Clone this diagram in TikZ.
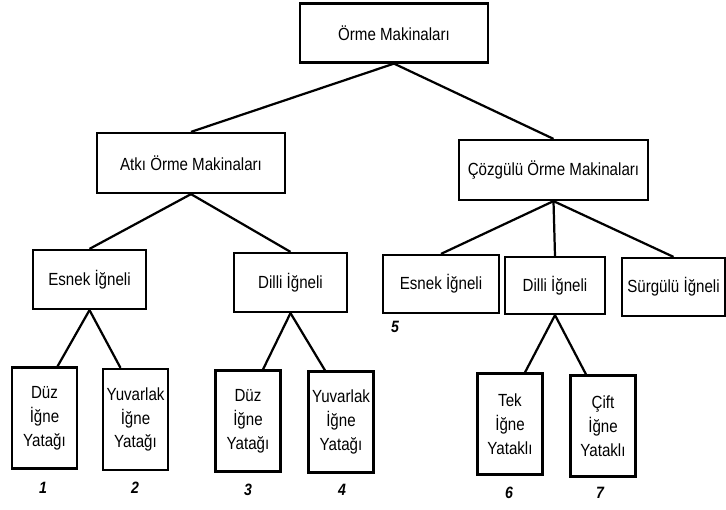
\documentclass[tikz,border=0pt]{standalone}
\usepackage{fontspec}
\setmainfont[FakeStretch=0.86]{Liberation Sans}
\usetikzlibrary{calc}

\tikzset{
    box/.style={draw, line width=1.9pt, inner sep=0pt, align=center,
        font=\fontsize{15}{20.4}\selectfont},
    tallbox/.style={box, minimum width=1.95cm, minimum height=3.03cm},
    num/.style={inner sep=0pt, font=\fontsize{14}{16}\selectfont\bfseries\itshape},
    link/.style={line width=1.9pt},
}

\begin{document}
\begin{tikzpicture}[x=0.03cm, y=-0.03cm]
    \useasboundingbox (0,0) rectangle (726,510);

    % top levels
    \node[box, minimum width=5.64cm, minimum height=1.77cm] (orme) at (394,33) {Örme Makinaları};
    \node[box, minimum width=5.64cm, minimum height=1.8cm] (atki) at (191,163) {Atkı Örme Makinaları};
    \node[box, minimum width=5.67cm, minimum height=1.8cm] (cozgu) at (553.5,170) {Çözgülü Örme Makinaları};

    % needle types
    \node[box, minimum width=3.39cm, minimum height=1.77cm] (esnekA) at (89.5,279.5) {Esnek İğneli};
    \node[box, minimum width=3.39cm, minimum height=1.77cm] (dilliA) at (290.5,282.5) {Dilli İğneli};
    \node[box, minimum width=3.48cm, minimum height=1.74cm] (esnekB) at (441,284) {Esnek İğneli};
    \node[box, minimum width=3.0cm, minimum height=1.71cm] (dilliB) at (555,285.5) {Dilli İğneli};
    \node[box, minimum width=3.09cm, minimum height=1.74cm] (surgu) at (673.5,287) {Sürgülü İğneli};

    % needle beds
    \node[tallbox] (duzA) at (44.5,418) {Düz\\İğne\\Yatağı};
    \node[tallbox] (yuvA) at (135.5,419.5) {Yuvarlak\\İğne\\Yatağı};
    \node[tallbox] (duzB) at (248,421) {Düz\\İğne\\Yatağı};
    \node[tallbox] (yuvB) at (341,422) {Yuvarlak\\İğne\\Yatağı};
    \node[tallbox] (tek) at (510,424) {Tek\\İğne\\Yataklı};
    \node[tallbox] (cift) at (603,426) {Çift\\İğne\\Yataklı};

    \foreach \n/\x/\y in {1/43/488, 2/135/488, 3/248/490, 4/342/490,
                          5/395/327, 6/509/493, 7/600/493} {
        \node[num] (no\n) at (\x,\y) {\n};
    }

    \draw[link] (orme.south) -- (atki.north);
    \draw[link] (orme.south) -- (cozgu.north);
    \draw[link] (atki.south) -- (esnekA.north);
    \draw[link] (atki.south) -- (dilliA.north);
    \draw[link] (cozgu.south) -- (esnekB.north);
    \draw[link] (cozgu.south) -- (dilliB.north);
    \draw[link] (cozgu.south) -- (surgu.north);
    \draw[link] (esnekA.south) -- ($(duzA.north)+(13,0)$);
    \draw[link] (esnekA.south) -- ($(yuvA.north)+(-15,0)$);
    \draw[link] (dilliA.south) -- ($(duzB.north)+(15,0)$);
    \draw[link] (dilliA.south) -- ($(yuvB.north)+(-16,0)$);
    \draw[link] (dilliB.south) -- ($(tek.north)+(15,0)$);
    \draw[link] (dilliB.south) -- ($(cift.north)+(-17,0)$);
\end{tikzpicture}
\end{document}
